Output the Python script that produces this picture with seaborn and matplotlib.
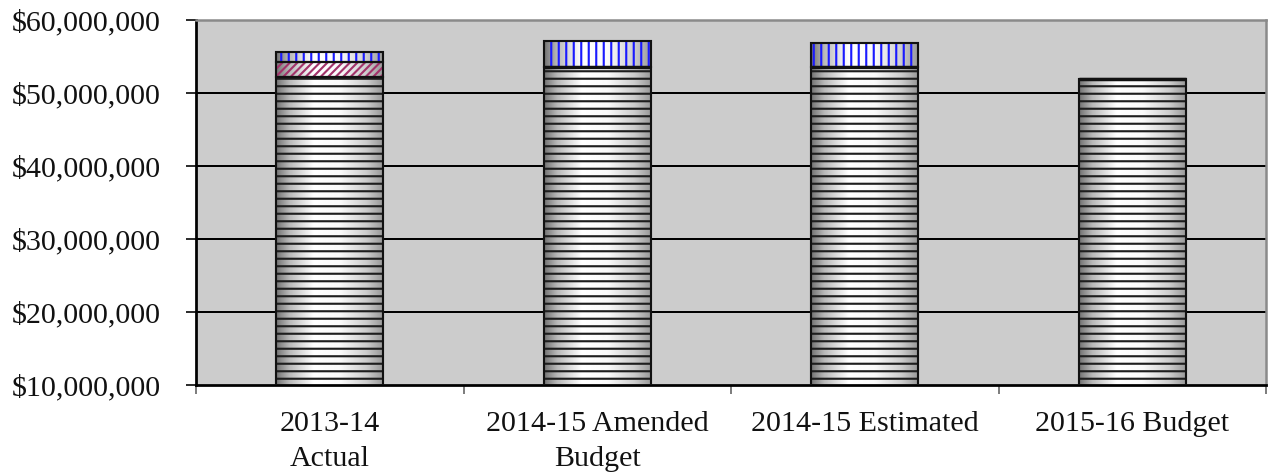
import numpy as np
import pandas as pd
import matplotlib
matplotlib.use("Agg")
import matplotlib.pyplot as plt
from matplotlib.ticker import FixedLocator, FuncFormatter
import seaborn as sns

# Fiscal periods and stacked revenue components (dollars)
categories = ["2013-14\nActual", "2014-15 Amended\nBudget", "2014-15 Estimated", "2015-16 Budget"]
base_amount = [52_200_000, 53_500_000, 53_500_000, 51_900_000]
second_amount = [2_100_000, 0, 0, 0]
third_amount = [1_300_000, 3_600_000, 3_400_000, 0]
y_ticks = [10_000_000, 20_000_000, 30_000_000, 40_000_000, 50_000_000, 60_000_000]

sns.set_theme(style="white")
plt.rcParams["font.family"] = ["Liberation Serif", "DejaVu Serif"]
plt.rcParams["hatch.linewidth"] = 1.7

DPI = 90
fig = plt.figure(figsize=(1271 / DPI, 476 / DPI), dpi=DPI)
ax = fig.add_axes([196 / 1271, 1 - 385 / 476, (1266 - 196) / 1271, (385 - 20) / 476])
ax.set_facecolor("#cccccc")

df = pd.DataFrame({
    "period": categories,
    "base": base_amount,
    "second": second_amount,
    "third": third_amount,
})
df["second_bottom"] = df["base"]
df["third_bottom"] = df["base"] + df["second"]

segments = [
    ("base", None, "#1e1e1e", "--"),
    ("second", "second_bottom", "#a3336b", "////"),
    ("third", "third_bottom", "#1a1aff", "||"),
]

hatch_patches = []
for col, bottom_col, hcolor, hatch in segments:
    bottoms = df[bottom_col].to_numpy() if bottom_col else np.zeros(len(df))
    n_before = len(ax.patches)
    # hatched fill layer
    sns.barplot(data=df, x="period", y=col, order=categories, bottom=bottoms,
                width=0.4, color="none", edgecolor=hcolor, hatch=hatch,
                linewidth=0, errorbar=None, zorder=3, ax=ax)
    hatch_patches.extend(ax.patches[n_before:])
    for p in ax.patches[n_before:]:
        p.set_facecolor("none")
    # outline layer
    sns.barplot(data=df, x="period", y=col, order=categories, bottom=bottoms,
                width=0.4, color="none", edgecolor="#111111", fill=False,
                linewidth=1.7, errorbar=None, zorder=4, ax=ax)
    for p in ax.patches[n_before + len(categories):]:
        p.set_facecolor("none")
        p.set_edgecolor("#111111")
        if p.get_height() == 0:
            p.set_linewidth(2.6)

ax.set_xlim(-0.5, 3.5)
ax.set_ylim(10_000_000, 60_000_000)

# horizontal shading inside each bar segment
t = np.linspace(0, 1, 200)
shade = np.interp(t, [0, 0.12, 0.35, 0.6, 0.85, 1], [0.45, 0.72, 1.0, 0.98, 0.8, 0.6])
grad = np.tile(shade, (2, 1))
for p in hatch_patches:
    h = p.get_height()
    if h <= 0:
        continue
    x0, y0, w = p.get_x(), p.get_y(), p.get_width()
    ax.imshow(grad, extent=(x0, x0 + w, y0, y0 + h), aspect="auto", cmap="gray",
              vmin=0, vmax=1, zorder=2, interpolation="bilinear", origin="lower")

ax.set_xlim(-0.5, 3.5)
ax.set_ylim(10_000_000, 60_000_000)
ax.set_aspect("auto")

# axes styling
ax.set_yticks(y_ticks)
ax.yaxis.set_major_formatter(FuncFormatter(lambda v, _: f"${v:,.0f}"))
ax.set_xlabel("")
ax.set_ylabel("")
ax.set_axisbelow(True)
ax.yaxis.grid(True, color="black", linewidth=1.6)
ax.xaxis.grid(False)
ax.get_ygridlines()[-1].set_visible(False)
ax.get_ygridlines()[0].set_visible(False)

for side in ["left", "bottom"]:
    ax.spines[side].set_color("black")
    ax.spines[side].set_linewidth(2.2)
for side in ["top", "right"]:
    ax.spines[side].set_color("#8a8a8a")
    ax.spines[side].set_linewidth(2.0)
    ax.spines[side].set_visible(True)

ax.tick_params(axis="y", which="major", direction="out", length=8, width=1.3,
               color="black", labelsize=24, pad=20, left=True)
ax.tick_params(axis="x", which="major", length=0, labelsize=24, pad=21)
ax.xaxis.set_minor_locator(FixedLocator([-0.5, 0.5, 1.5, 2.5, 3.5]))
ax.tick_params(axis="x", which="minor", direction="out", length=7, width=1.5,
               color="#777777", bottom=True)
for lbl in ax.get_xticklabels():
    lbl.set_linespacing(1.45)
for lbl in ax.get_yticklabels() + ax.get_xticklabels():
    lbl.set_color("#111111")

fig.savefig("out.png", dpi=DPI, facecolor="white")
